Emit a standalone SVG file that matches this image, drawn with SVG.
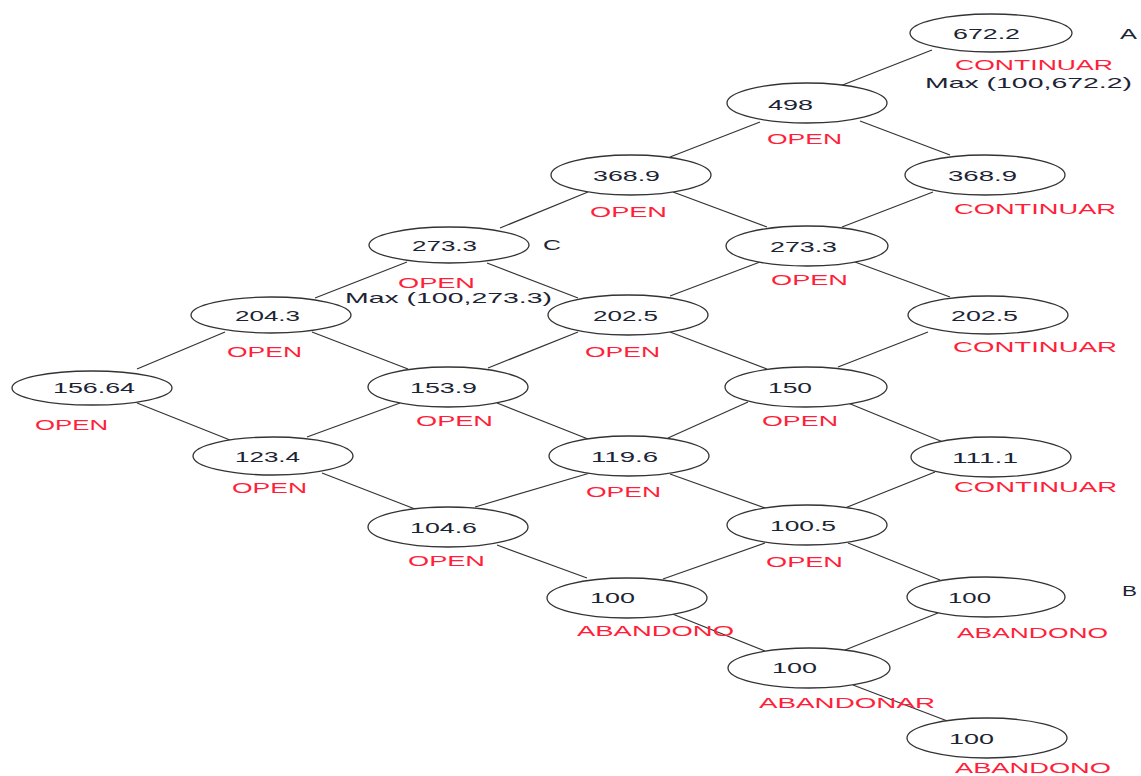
<svg xmlns="http://www.w3.org/2000/svg" width="1141" height="776" viewBox="0 0 1141 776">
  <style>
    .node { fill: #ffffff; stroke: #333333; stroke-width: 1.3; }
    .edge { stroke: #333333; stroke-width: 1.2; fill: none; }
    .num { font-family: "Liberation Sans", Arial, sans-serif; font-size: 15px; fill: #1c2433; }
    .lbl { font-family: "Liberation Sans", Arial, sans-serif; font-size: 15px; fill: #ff1f3a; }
    .note { font-family: "Liberation Sans", Arial, sans-serif; font-size: 15px; fill: #1c2433; }
  </style>
  <rect width="1141" height="776" fill="#ffffff"/>

  <!-- connectors between values of the lattice -->
  <g id="connectors">
    <line class="edge" x1="840" y1="86" x2="932" y2="50"/>
    <line class="edge" x1="760" y1="122" x2="670" y2="157"/>
    <line class="edge" x1="860" y1="121" x2="950" y2="155"/>
    <line class="edge" x1="588" y1="192" x2="500" y2="228"/>
    <line class="edge" x1="673" y1="192" x2="767" y2="227"/>
    <line class="edge" x1="842" y1="227" x2="933" y2="192"/>
    <line class="edge" x1="407" y1="262" x2="315" y2="298"/>
    <line class="edge" x1="487" y1="263" x2="578" y2="298"/>
    <line class="edge" x1="760" y1="262" x2="670" y2="296"/>
    <line class="edge" x1="855" y1="262" x2="950" y2="297"/>
    <line class="edge" x1="225" y1="332" x2="137" y2="369"/>
    <line class="edge" x1="312" y1="332" x2="408" y2="369"/>
    <line class="edge" x1="578" y1="332" x2="488" y2="368"/>
    <line class="edge" x1="670" y1="332" x2="767" y2="369"/>
    <line class="edge" x1="928" y1="332" x2="838" y2="367"/>
    <line class="edge" x1="137" y1="403" x2="230" y2="440"/>
    <line class="edge" x1="400" y1="403" x2="307" y2="437"/>
    <line class="edge" x1="497" y1="403" x2="588" y2="439"/>
    <line class="edge" x1="748" y1="402" x2="668" y2="438"/>
    <line class="edge" x1="848" y1="403" x2="943" y2="442"/>
    <line class="edge" x1="322" y1="473" x2="415" y2="509"/>
    <line class="edge" x1="590" y1="473" x2="475" y2="507"/>
    <line class="edge" x1="670" y1="474" x2="768" y2="509"/>
    <line class="edge" x1="935" y1="472" x2="845" y2="508"/>
    <line class="edge" x1="497" y1="545" x2="587" y2="578"/>
    <line class="edge" x1="765" y1="543" x2="663" y2="579"/>
    <line class="edge" x1="848" y1="543" x2="940" y2="580"/>
    <line class="edge" x1="670" y1="613" x2="765" y2="651"/>
    <line class="edge" x1="845" y1="650" x2="938" y2="613"/>
    <line class="edge" x1="853" y1="685" x2="950" y2="722"/>
  </g>

  <g id="n672">
    <ellipse class="node" cx="991" cy="33" rx="81" ry="19"/>
    <text class="num" x="953" y="39" textLength="67" lengthAdjust="spacingAndGlyphs">672.2</text>
    <text class="lbl" x="955" y="70" textLength="158" lengthAdjust="spacingAndGlyphs">CONTINUAR</text>
  </g>
  <g id="n498">
    <ellipse class="node" cx="807" cy="103" rx="80" ry="20"/>
    <text class="num" x="768" y="110" textLength="45" lengthAdjust="spacingAndGlyphs">498</text>
    <text class="lbl" x="767" y="144" textLength="75" lengthAdjust="spacingAndGlyphs">OPEN</text>
  </g>
  <g id="n369a">
    <ellipse class="node" cx="631" cy="175" rx="80" ry="20"/>
    <text class="num" x="593" y="181" textLength="67" lengthAdjust="spacingAndGlyphs">368.9</text>
    <text class="lbl" x="590" y="217" textLength="77" lengthAdjust="spacingAndGlyphs">OPEN</text>
  </g>
  <g id="n369b">
    <ellipse class="node" cx="985" cy="175" rx="80" ry="20"/>
    <text class="num" x="948" y="181" textLength="69" lengthAdjust="spacingAndGlyphs">368.9</text>
    <text class="lbl" x="954" y="214" textLength="162" lengthAdjust="spacingAndGlyphs">CONTINUAR</text>
  </g>
  <g id="n273a">
    <ellipse class="node" cx="449" cy="245" rx="80" ry="18"/>
    <text class="num" x="412" y="251" textLength="65" lengthAdjust="spacingAndGlyphs">273.3</text>
    <text class="lbl" x="398" y="288" textLength="77" lengthAdjust="spacingAndGlyphs">OPEN</text>
  </g>
  <g id="n273b">
    <ellipse class="node" cx="807" cy="246" rx="81" ry="20"/>
    <text class="num" x="770" y="252" textLength="67" lengthAdjust="spacingAndGlyphs">273.3</text>
    <text class="lbl" x="771" y="285" textLength="77" lengthAdjust="spacingAndGlyphs">OPEN</text>
  </g>
  <g id="n204">
    <ellipse class="node" cx="271" cy="315" rx="80" ry="18"/>
    <text class="num" x="235" y="321" textLength="65" lengthAdjust="spacingAndGlyphs">204.3</text>
    <text class="lbl" x="227" y="357" textLength="75" lengthAdjust="spacingAndGlyphs">OPEN</text>
  </g>
  <g id="n202a">
    <ellipse class="node" cx="628" cy="315" rx="80" ry="20"/>
    <text class="num" x="593" y="321" textLength="65" lengthAdjust="spacingAndGlyphs">202.5</text>
    <text class="lbl" x="585" y="357" textLength="75" lengthAdjust="spacingAndGlyphs">OPEN</text>
  </g>
  <g id="n202b">
    <ellipse class="node" cx="988" cy="315" rx="80" ry="19"/>
    <text class="num" x="951" y="321" textLength="67" lengthAdjust="spacingAndGlyphs">202.5</text>
    <text class="lbl" x="953" y="352" textLength="164" lengthAdjust="spacingAndGlyphs">CONTINUAR</text>
  </g>
  <g id="n156">
    <ellipse class="node" cx="92" cy="388" rx="80" ry="17"/>
    <text class="num" x="53" y="393" textLength="82" lengthAdjust="spacingAndGlyphs">156.64</text>
    <text class="lbl" x="35" y="430" textLength="73" lengthAdjust="spacingAndGlyphs">OPEN</text>
  </g>
  <g id="n153">
    <ellipse class="node" cx="448" cy="387" rx="80" ry="20"/>
    <text class="num" x="410" y="393" textLength="67" lengthAdjust="spacingAndGlyphs">153.9</text>
    <text class="lbl" x="416" y="426" textLength="77" lengthAdjust="spacingAndGlyphs">OPEN</text>
  </g>
  <g id="n150">
    <ellipse class="node" cx="806" cy="387" rx="81" ry="20"/>
    <text class="num" x="768" y="393" textLength="44" lengthAdjust="spacingAndGlyphs">150</text>
    <text class="lbl" x="762" y="426" textLength="76" lengthAdjust="spacingAndGlyphs">OPEN</text>
  </g>
  <g id="n123">
    <ellipse class="node" cx="273" cy="456" rx="80" ry="19"/>
    <text class="num" x="235" y="462" textLength="65" lengthAdjust="spacingAndGlyphs">123.4</text>
    <text class="lbl" x="232" y="493" textLength="75" lengthAdjust="spacingAndGlyphs">OPEN</text>
  </g>
  <g id="n119">
    <ellipse class="node" cx="629" cy="456" rx="80" ry="20"/>
    <text class="num" x="591" y="462" textLength="67" lengthAdjust="spacingAndGlyphs">119.6</text>
    <text class="lbl" x="586" y="497" textLength="75" lengthAdjust="spacingAndGlyphs">OPEN</text>
  </g>
  <g id="n111">
    <ellipse class="node" cx="991" cy="457" rx="80" ry="20"/>
    <text class="num" x="952" y="463" textLength="66" lengthAdjust="spacingAndGlyphs">111.1</text>
    <text class="lbl" x="954" y="492" textLength="163" lengthAdjust="spacingAndGlyphs">CONTINUAR</text>
  </g>
  <g id="n104">
    <ellipse class="node" cx="448" cy="527" rx="80" ry="20"/>
    <text class="num" x="410" y="533" textLength="67" lengthAdjust="spacingAndGlyphs">104.6</text>
    <text class="lbl" x="408" y="566" textLength="77" lengthAdjust="spacingAndGlyphs">OPEN</text>
  </g>
  <g id="n100_5">
    <ellipse class="node" cx="807" cy="525" rx="80" ry="20"/>
    <text class="num" x="770" y="531" textLength="66" lengthAdjust="spacingAndGlyphs">100.5</text>
    <text class="lbl" x="766" y="567" textLength="77" lengthAdjust="spacingAndGlyphs">OPEN</text>
  </g>
  <g id="n100a">
    <ellipse class="node" cx="627" cy="598" rx="80" ry="20"/>
    <text class="num" x="590" y="603" textLength="45" lengthAdjust="spacingAndGlyphs">100</text>
    <text class="lbl" x="577" y="636" textLength="157" lengthAdjust="spacingAndGlyphs">ABANDONO</text>
  </g>
  <g id="n100b">
    <ellipse class="node" cx="986" cy="597" rx="79" ry="20"/>
    <text class="num" x="948" y="603" textLength="43" lengthAdjust="spacingAndGlyphs">100</text>
    <text class="lbl" x="957" y="638" textLength="151" lengthAdjust="spacingAndGlyphs">ABANDONO</text>
  </g>
  <g id="n100c">
    <ellipse class="node" cx="809" cy="668" rx="81" ry="20"/>
    <text class="num" x="772" y="673" textLength="45" lengthAdjust="spacingAndGlyphs">100</text>
    <text class="lbl" x="759" y="708" textLength="176" lengthAdjust="spacingAndGlyphs">ABANDONAR</text>
  </g>
  <g id="n100d">
    <ellipse class="node" cx="987" cy="738" rx="80" ry="20"/>
    <text class="num" x="949" y="744" textLength="45" lengthAdjust="spacingAndGlyphs">100</text>
    <text class="lbl" x="955" y="773" textLength="156" lengthAdjust="spacingAndGlyphs">ABANDONO</text>
  </g>

  <!-- annotations -->
  <g id="notes">
    <text class="note" x="1120" y="39" textLength="17" lengthAdjust="spacingAndGlyphs">A</text>
    <text class="note" x="1122" y="596" textLength="15" lengthAdjust="spacingAndGlyphs">B</text>
    <text class="note" x="543" y="250" textLength="18" lengthAdjust="spacingAndGlyphs">C</text>
    <text class="note" x="925" y="88" textLength="207" lengthAdjust="spacingAndGlyphs">Max (100,672.2)</text>
    <text class="note" x="345" y="303" textLength="207" lengthAdjust="spacingAndGlyphs">Max (100,273.3)</text>
  </g>
</svg>
